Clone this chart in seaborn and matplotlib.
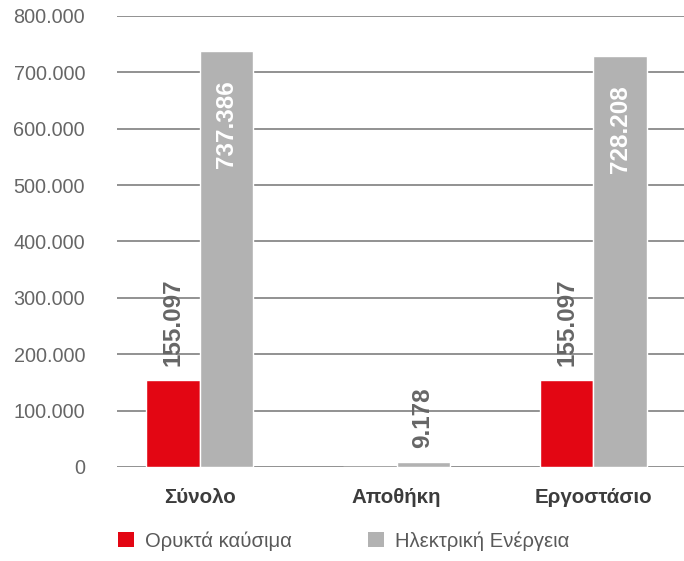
import pandas as pd
import matplotlib.pyplot as plt
import seaborn as sns
from matplotlib.patches import Patch

categories = ['Σύνολο', 'Αποθήκη', 'Εργοστάσιο']
series = ['Ορυκτά καύσιμα', 'Ηλεκτρική Ενέργεια']
fossil = [155097, 0, 155097]
electric = [737386, 9178, 728208]
value_labels = [['155.097', '', '155.097'], ['737.386', '9.178', '728.208']]
y_ticks = [0, 100000, 200000, 300000, 400000, 500000, 600000, 700000, 800000]
y_tick_labels = ['0', '100.000', '200.000', '300.000', '400.000',
                 '500.000', '600.000', '700.000', '800.000']

colors = ['#E30613', '#B2B2B2']

df = pd.DataFrame({
    'cat': categories * 2,
    'serie': [series[0]] * 3 + [series[1]] * 3,
    'value': fossil + electric,
})

sns.set_style('white')
plt.rcParams['font.family'] = ['Liberation Sans', 'DejaVu Sans']

fig = plt.figure(figsize=(6.84, 5.61), dpi=100)
ax = fig.add_axes([0.171, 0.1676, 0.829, 0.804])

sns.barplot(data=df, x='cat', y='value', hue='serie', hue_order=series,
            palette=colors, width=0.54, saturation=1, legend=False, ax=ax)

ax.set_ylim(0, 800000)
ax.set_xlim(-0.42, 2.46)
ax.set_yticks(y_ticks)
ax.set_yticklabels(y_tick_labels)
ax.yaxis.grid(True, color='#7f7f7f', linewidth=1.2)
ax.set_axisbelow(True)
for s in ax.spines.values():
    s.set_visible(False)
ax.set_xlabel('')
ax.set_ylabel('')
ax.tick_params(axis='y', length=0, pad=23, labelsize=14.3, labelcolor='#666666')
ax.tick_params(axis='x', length=0, pad=15, labelsize=14.8, labelcolor='#3c3c3c')
for t in ax.get_xticklabels():
    t.set_fontweight('bold')

# etiquetas de valor
for i, cont in enumerate(ax.containers):
    for j, bar in enumerate(cont):
        txt = value_labels[i][j]
        if not txt:
            continue
        h = bar.get_height()
        xc = bar.get_x() + bar.get_width() / 2
        if h > 400000:
            ax.annotate(txt, (xc, h), xytext=(0, -21), textcoords='offset points',
                        rotation=90, ha='center', va='top', color='white',
                        fontsize=17.5, fontweight='bold')
        else:
            ax.annotate(txt, (xc, h), xytext=(0, 10), textcoords='offset points',
                        rotation=90, ha='center', va='bottom', color='#666666',
                        fontsize=17.5, fontweight='bold')

handles = [Patch(facecolor=c, edgecolor='none') for c in colors]
fig.legend(handles, series, loc='center left', bbox_to_anchor=(0.172, 0.036),
           ncol=2, frameon=False, fontsize=14.6, labelcolor='#595959',
           handlelength=0.8, handleheight=0.8, handletextpad=0.55,
           columnspacing=3.75, borderaxespad=0, borderpad=0)

fig.savefig('out.png', dpi=100)
